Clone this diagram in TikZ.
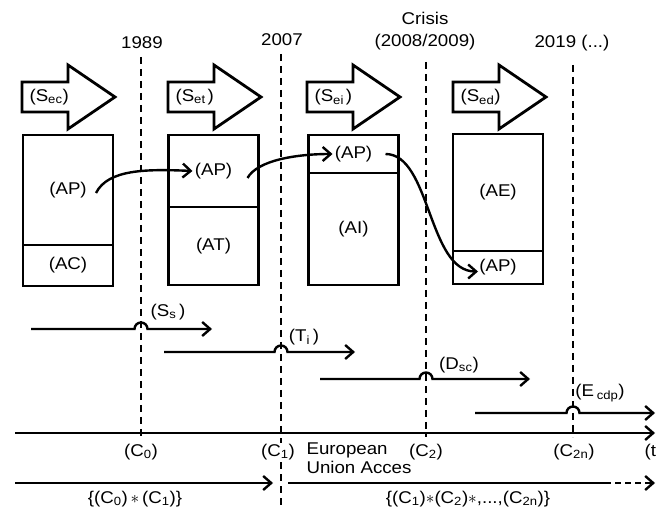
\documentclass[tikz,border=0pt]{standalone}
\usepackage{fontspec}
\setmainfont{Liberation Sans}[FakeStretch=1.1]
\usetikzlibrary{positioning, arrows.meta}

\tikzset{
  cell/.style={draw, line width=2.8pt, minimum width=90, outer sep=0pt, inner sep=0pt},
  guide/.style={line width=2.6pt, dash pattern=on 7pt off 5pt},
  phase/.style={line width=2.4pt, -{Straight Barb[length=8pt,width=14pt]}},
  move/.style={line width=2.4pt, -{Straight Barb[length=8pt,width=14pt]}},
  bigarrow/.style={draw, line width=2.8pt, line join=miter},
}

\begin{document}
\begin{tikzpicture}[x=1pt, y=-1pt, font=\fontsize{17}{20}\selectfont]
  \useasboundingbox (0,0) rectangle (656,510);

  % years on top
  \node (y1) at (142,43) {1989};
  \node (y2) at (282,40) {2007};
  \node[align=center, font=\fontsize{17}{22}\selectfont] (y3) at (425,31) {Crisis\\(2008/2009)};
  \node (y4) at (572,43) {2019 (...)};

  % dashed guides
  \foreach \n/\x/\top/\bot in {1/141/57/437, 2/281/54/510, 3/426/62/437, 4/573/65/437} {
    \coordinate (g\n) at (\x,\top);
    \coordinate (g\n-b) at (\x,\bot);
    \draw[guide] (g\n) -- (g\n-b);
  }

  % strategy arrows
  \foreach \x/\s in {22/ec, 168/et\,, 307/ei\,, 453/ed} {
    \draw[bigarrow] (\x,82) -- ++(46,0) -- ++(0,-17) -- ++(47,32) -- ++(-47,32)
      -- ++(0,-17) -- ++(-46,0) -- cycle;
    \node[anchor=west] at (\x+4,97) {(S\textsubscript{\s})};
  }

  % activity blocks
  \node[cell, minimum height=110] (c1a) at (68,190) {(AP)};
  \node[cell, minimum height=41, below=0pt of c1a] (c1b) {(AC)};
  \node[cell, minimum height=72] (c2a) at (213.5,171) {(AP)};
  \node[cell, minimum height=78, below=0pt of c2a] (c2b) {(AT)};
  \node[cell, minimum height=38] (c3a) at (353.5,154) {(AP)};
  \node[cell, minimum height=112, below=0pt of c3a] (c3b) {(AI)};
  \node[cell, minimum height=117] (c4a) at (498,192.5) {(AE)};
  \node[cell, minimum height=33, below=0pt of c4a] (c4b) {(AP)};

  % AP moves from block to block
  \draw[move] ([xshift=28pt,yshift=-3pt]c1a.center) .. controls +(12,-24) and +(-45,-2) .. ([xshift=-21pt]c2a.center);
  \draw[move] ([xshift=34pt,yshift=-7pt]c2a.center) .. controls +(10,-18) and +(-35,0) .. ([xshift=-21pt]c3a.center);
  \draw[move] ([xshift=32pt]c3a.center) .. controls +(45,0) and +(-50,0) .. ([xshift=-20pt,yshift=-4pt]c4b.center);

  % phases, hopping over the guides
  \foreach \n/\a/\b/\y/\h in {1/31/212/329/141, 2/164/355/352/281, 3/320/530/379/426, 4/475/655/413/573} {
    \coordinate (p\n-a) at (\a,\y);
    \coordinate (p\n-b) at (\b,\y);
    \draw[phase] (p\n-a) -- (\h-6.5,\y) arc[start angle=180, end angle=360, radius=6.5] -- (p\n-b);
  }
  \node (l-ss) at (168,312) {(S\textsubscript{s}\,)};
  \node (l-ti) at (304,337) {(T\textsubscript{i}\,)};
  \node (l-dsc) at (459,365) {(D\textsubscript{sc})};
  \node (l-ecdp) at (600,393) {(E\,\textsubscript{cdp})};

  % time axis
  \coordinate (t-a) at (15,433);
  \coordinate (t-b) at (655,433);
  \draw[phase] (t-a) -- (t-b);
  \node (c0) at (141,452) {(C\textsubscript{0})};
  \node[fill=white, inner ysep=1pt] (c1) at (278,452) {(C\textsubscript{1})};
  \node (c2) at (426,452) {(C\textsubscript{2})};
  \node (c2n) at (574,452) {(C\textsubscript{2n})};
  \node[anchor=west] (tt) at (641,452) {(t)};
  \node[anchor=west, align=left, font=\fontsize{17}{19}\selectfont] (eu) at (303,458) {European\\Union Acces};

  % cycles
  \coordinate (e-a) at (15,483);
  \coordinate (e-b) at (273,483);
  \coordinate (e-c) at (288,483);
  \coordinate (e-d) at (605,483);
  \coordinate (e-e) at (655,483);
  \draw[phase] (e-a) -- (e-b);
  \draw[line width=2.4pt] (e-c) -- (e-d);
  \draw[phase, dash pattern=on 6pt off 4pt] (e-d) -- (e-e);
  \node (k1) at (135,499) {\{(C\textsubscript{0})\,$\ast$\,(C\textsubscript{1})\}};
  \node (k2) at (468,499) {\{(C\textsubscript{1})$\ast$(C\textsubscript{2})$\ast$,...,(C\textsubscript{2n})\}};
\end{tikzpicture}
\end{document}
